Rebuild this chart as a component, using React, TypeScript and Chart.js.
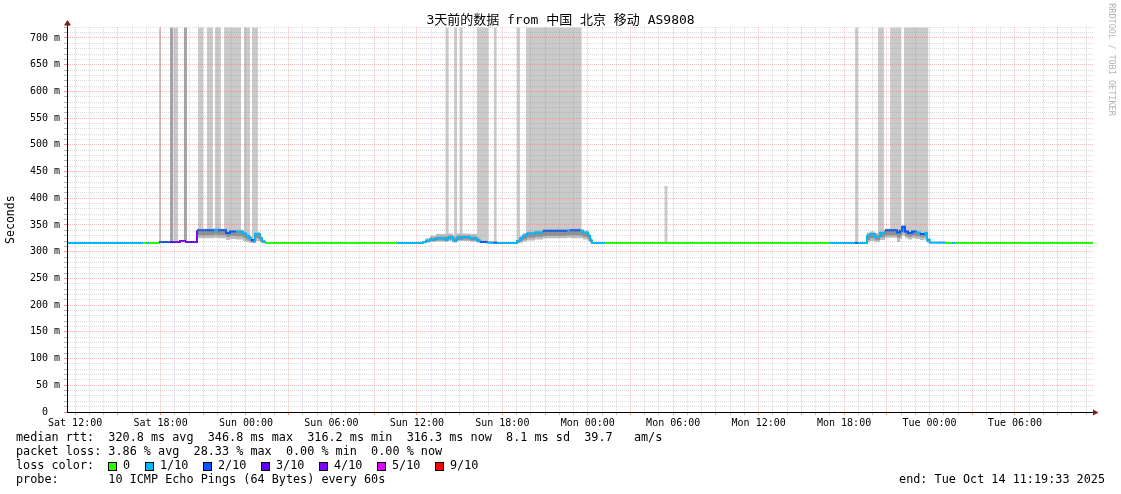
import { useEffect, useRef } from 'react';
import { Chart, registerables } from 'chart.js';

Chart.register(...registerables);

const FONT = '"DejaVu Sans Mono", "Noto Sans CJK SC", monospace';

// ---------- data ----------
const lossPalette: Record<number, string> = {
  0: '#26ff00', 1: '#00b8ff', 2: '#0059ff', 3: '#5e00ff', 4: '#7e00ff', 5: '#dd00ff', 9: '#ff0000',
};

// hours since Sat 00:00
const timeHours = [11.43,16.56,16.77,17.05,17.19,17.89,18.66,19.08,19.37,19.72,20.21,20.56,21.75,22.03,22.60,22.88,23.30,23.79,24.00,24.21,24.35,24.49,24.63,24.98,25.12,25.33,34.60,36.43,36.64,36.92,37.34,37.98,38.19,38.54,38.82,39.24,39.73,40.22,40.43,40.92,41.35,41.63,43.03,43.24,43.45,43.73,44.29,44.86,46.54,46.75,47.46,47.67,48.02,48.16,48.30,49.21,65.01,66.77,66.98,67.61,67.82,68.17,68.52,68.87,69.72,69.93,70.07,70.28,70.49,70.77,71.05,71.33,71.61,71.82,72.03,73.09,73.58,73.79,83.48];

const medianRtt = [316.3,316.3,316.3,316.3,316.3, 318,318,318,320,318,318, 340,341,340,335,338,338,334,330,326,322,319,333,325,319, 316.3,316.3, 318,321,323,325,323,327,321,326,327,325,321,318,317,317, 316.3, 320,325,330,334,336,339,340,340,339,336,330,321, 316.3,316.3, 316.3,316.3,316.3, 330,333,328,335,340,336,339,346.8,338,335,338,336,333,335,322,317, 316.3,316.3,316.3,316.3];

const lossTenths = [1,1,0,1,0, 2,3,4,4,3,4, 2,1,2,2,2,1,1,1,1,2,1,1,1,1, 0,1, 1,1,1,1,1,1,1,1,1,1,1,2,1,2, 1, 1,1,1,1,1,2,1,2,1,1,1,1, 1,0, 1,2,1, 1,1,1,1,2,2,2,2,2,2,2,1,2,1,1,1, 0,1,0,0];

const smokeOuterLo = [316.3,316.3,316.3,316.3,316.3, 318,318,318,320,318,318, 325,326,325,322,324,323,320,318,317,317,316.3,320,318,316.3, 316.3,316.3, 316.3,317,318,319,318,320,317,320,320,319,317,316.3,316.3,316.3, 316.3, 316.3,317,319,321,323,325,326,325,325,323,320,317, 316.3,316.3, 316.3,316.3,316.3, 318,320,318,322,326,318,324,330,325,323,325,324,322,323,317,316.3, 316.3,316.3,316.3,316.3];

const smokeOuterHi = [316.3,316.3,316.3,316.3,316.3, 318,318,318,320,318,318, 343,344,343,339,341,341,337,334,330,326,323,337,330,322, 316.3,316.3, 320,325,330,333,333,334,331,334,334,333,328,322,320,319, 316.3, 324,330,335,338,340,342,343,343,342,339,334,326, 316.3,316.3, 316.3,316.3,316.3, 336,338,335,339,343,340,342,349,341,338,341,339,336,338,326,319, 316.3,316.3,316.3,316.3];

const smokeInnerLo = [316.3,316.3,316.3,316.3,316.3, 318,318,318,320,318,318, 331,332,331,328,330,329,326,323,320,318,317,325,320,317, 316.3,316.3, 317,318,320,321,320,323,319,322,323,321,318,317,316.3,316.3, 316.3, 317,320,323,326,328,330,331,331,330,328,324,318, 316.3,316.3, 316.3,316.3,316.3, 322,325,322,327,331,326,330,336,330,328,330,329,327,328,318,316.3, 316.3,316.3,316.3,316.3];

const smokeInnerHi = [316.3,316.3,316.3,316.3,316.3, 318,318,318,320,318,318, 341,342,341,336,339,339,335,331,327,323,320,334,326,320, 316.3,316.3, 319,322,326,328,328,330,326,330,330,328,324,320,318,318, 316.3, 322,327,332,336,338,340,341,341,340,337,332,323, 316.3,316.3, 316.3,316.3,316.3, 332,335,331,337,341,338,340,348,339,336,339,337,334,336,324,318, 316.3,316.3,316.3,316.3];

// loss shading bars
const barStartH = [17.89,18.66,18.90,19.63,20.63,21.26,21.82,22.46,23.86,24.42,38.02,38.61,39.01,40.20,41.40,43.01,43.66,53.38,66.77,68.38,69.23,70.21];
const barEndH = [18.03,18.90,19.23,19.86,21.00,21.68,22.24,23.65,24.28,24.84,38.24,38.82,39.22,41.04,41.61,43.24,47.58,53.61,66.98,68.80,70.00,71.92];
const barTopV = [720,720,720,720,720,720,720,720,720,720,720,720,720,720,720,720,720,423,720,720,720,720];
const barBaseV = [316.3,318,318,318,335,335,335,335,325,325,325,325,325,320,316.3,320,330,316.3,316.3,330,330,330];
const barDark = [0,1,0,1,0,0,0,0,0,0,0,0,0,0,0,0,0,0,0,0,0,0];

// axes
const xMinH = 11.43;
const xMaxH = 83.48;
const xLabelHours = [12,18,24,30,36,42,48,54,60,66,72,78];
const xLabels = ['Sat 12:00','Sat 18:00','Sun 00:00','Sun 06:00','Sun 12:00','Sun 18:00','Mon 00:00','Mon 06:00','Mon 12:00','Mon 18:00','Tue 00:00','Tue 06:00'];
const yLabelValues = [0,50,100,150,200,250,300,350,400,450,500,550,600,650,700];
const yLabels = ['0  ','50 m','100 m','150 m','200 m','250 m','300 m','350 m','400 m','450 m','500 m','550 m','600 m','650 m','700 m'];

const titleText = '3天前的数据 from 中国 北京 移动 AS9808';
const legendLines = [
  'median rtt:  320.8 ms avg  346.8 ms max  316.2 ms min  316.3 ms now  8.1 ms sd  39.7   am/s',
  'packet loss: 3.86 % avg  28.33 % max  0.00 % min  0.00 % now',
  'loss color:',
  'probe:       10 ICMP Echo Pings (64 Bytes) every 60s',
];
const lossLegendKeys = [0, 1, 2, 3, 4, 5, 9];
const lossLegendLabels = ['0', '1/10', '2/10', '3/10', '4/10', '5/10', '9/10'];
const endText = 'end: Tue Oct 14 11:19:33 2025';
const watermark = 'RRDTOOL / TOBI OETIKER';

// ---------- helpers ----------
const pts = (ys: number[]) => timeHours.map((t, i) => ({ x: t, y: ys[i] }));
const MAJOR_GRID = 'rgba(255,70,70,0.36)';
const MINOR_GRID = 'rgba(140,140,140,0.30)';

const hourTicks: number[] = [];
for (let h = Math.ceil(xMinH); h <= Math.floor(xMaxH); h++) hourTicks.push(h);
const tenTicks: number[] = [];
for (let v = 0; v <= 720; v += 10) tenTicks.push(v);

const decorPlugin = {
  id: 'decor',
  afterDraw(chart: any) {
    const ctx: CanvasRenderingContext2D = chart.ctx;
    const area = chart.chartArea;
    ctx.save();
    // axis extensions and arrows
    ctx.strokeStyle = '#000';
    ctx.lineWidth = 1;
    ctx.beginPath();
    ctx.moveTo(area.left + 0.5, area.top);
    ctx.lineTo(area.left + 0.5, 23);
    ctx.moveTo(area.right, 412.5);
    ctx.lineTo(1095, 412.5);
    ctx.stroke();
    ctx.fillStyle = '#7a1a1a';
    ctx.beginPath();
    ctx.moveTo(64, 25.5);
    ctx.lineTo(71, 25.5);
    ctx.lineTo(67.5, 20);
    ctx.closePath();
    ctx.fill();
    ctx.beginPath();
    ctx.moveTo(1093, 409.5);
    ctx.lineTo(1093, 415.5);
    ctx.lineTo(1098.5, 412.5);
    ctx.closePath();
    ctx.fill();

    // title
    ctx.fillStyle = '#000';
    ctx.textBaseline = 'middle';
    ctx.textAlign = 'center';
    ctx.font = `13px ${FONT}`;
    ctx.fillText(titleText, chart.width / 2, 21);

    // y axis title
    ctx.save();
    ctx.translate(11, (area.top + area.bottom) / 2);
    ctx.rotate(-Math.PI / 2);
    ctx.font = `11.5px ${FONT}`;
    ctx.fillText('Seconds', 0, 0);
    ctx.restore();

    // watermark
    ctx.save();
    ctx.translate(1111, 59.5);
    ctx.rotate(Math.PI / 2);
    ctx.font = `8.5px ${FONT}`;
    ctx.fillStyle = '#b4b4b4';
    ctx.fillText(watermark, 0, 0);
    ctx.restore();

    // legend
    ctx.textAlign = 'left';
    ctx.font = `11.8px ${FONT}`;
    ctx.fillStyle = '#000';
    const rowY = [438, 452, 466, 480];
    legendLines.forEach((line, i) => ctx.fillText(line, 16, rowY[i]));
    const boxX = [108, 145, 203, 261, 319, 377, 435];
    lossLegendKeys.forEach((k, i) => {
      ctx.fillStyle = lossPalette[k];
      ctx.fillRect(boxX[i] + 0.5, 462.5, 8, 8);
      ctx.strokeStyle = '#000';
      ctx.strokeRect(boxX[i] + 0.5, 462.5, 8, 8);
      ctx.fillStyle = '#000';
      ctx.fillText(lossLegendLabels[i], boxX[i] + 15, 466);
    });
    ctx.textAlign = 'right';
    ctx.fillText(endText, 1105, 480);
    ctx.restore();
  },
};

function buildConfig(): any {
  const stepSeries = (data: number[], extra: any) => ({
    data: pts(data),
    stepped: true,
    pointRadius: 0,
    borderWidth: 0,
    borderColor: 'rgba(0,0,0,0)',
    tension: 0,
    ...extra,
  });

  const datasets: any[] = [
    stepSeries(medianRtt, {
      label: 'median',
      borderWidth: 2,
      borderColor: lossPalette[0],
      borderCapStyle: 'butt',
      fill: false,
      order: 0,
      segment: { borderColor: (c: any) => lossPalette[lossTenths[c.p0DataIndex]] },
    }),
    stepSeries(smokeInnerLo, { label: 'innerLo', fill: false, order: 1 }),
    stepSeries(smokeInnerHi, { label: 'innerHi', fill: '-1', backgroundColor: '#909090', order: 1 }),
    stepSeries(smokeOuterLo, { label: 'outerLo', fill: false, order: 2 }),
    stepSeries(smokeOuterHi, { label: 'outerHi', fill: '-1', backgroundColor: '#bdbdbd', order: 2 }),
  ];

  barStartH.forEach((s, i) => {
    datasets.push({
      label: `loss${i}`,
      data: [
        { x: s, y: barTopV[i] },
        { x: barEndH[i], y: barTopV[i] },
      ],
      pointRadius: 0,
      borderWidth: 0,
      borderColor: 'rgba(0,0,0,0)',
      fill: { value: barBaseV[i] },
      backgroundColor: barDark[i] ? '#a4a4a4' : '#cacaca',
      order: 3,
    });
  });

  return {
    type: 'line',
    data: { datasets },
    plugins: [decorPlugin],
    options: {
      animation: false,
      responsive: false,
      events: [],
      layout: { padding: { left: 0, top: 27.3, right: 28, bottom: 0 } },
      plugins: { legend: { display: false }, tooltip: { enabled: false }, title: { display: false } },
      scales: {
        x: {
          type: 'linear',
          min: xMinH,
          max: xMaxH,
          afterBuildTicks: (s: any) => { s.ticks = hourTicks.map((v) => ({ value: v })); },
          afterFit: (s: any) => { s.height = 82; },
          grid: {
            z: 1,
            lineWidth: 1,
            color: (c: any) => (c.tick && c.tick.value % 3 === 0 ? MAJOR_GRID : MINOR_GRID),
            tickColor: (c: any) => (c.tick && c.tick.value % 3 === 0 ? 'rgba(255,64,64,0.6)' : 'rgba(130,130,130,0.5)'),
            tickLength: 3,
          },
          border: { display: true, color: '#000', width: 1, dash: [1, 1], z: 2 },
          ticks: {
            autoSkip: false,
            maxRotation: 0,
            minRotation: 0,
            padding: 2,
            color: '#000',
            font: { family: FONT, size: 10 },
            callback: (v: number) => {
              const i = xLabelHours.indexOf(v);
              return i >= 0 ? xLabels[i] : '';
            },
          },
        },
        y: {
          type: 'linear',
          min: 0,
          max: 720,
          afterBuildTicks: (s: any) => { s.ticks = tenTicks.map((v) => ({ value: v })); },
          afterFit: (s: any) => { s.width = 67; },
          grid: {
            z: 1,
            lineWidth: 1,
            color: (c: any) => (c.tick && c.tick.value % 50 === 0 ? MAJOR_GRID : MINOR_GRID),
            tickColor: (c: any) => (c.tick && c.tick.value % 50 === 0 ? 'rgba(255,64,64,0.6)' : 'rgba(130,130,130,0.6)'),
            tickLength: 3,
          },
          border: { display: true, color: '#000', width: 1, dash: [1, 1], z: 2 },
          ticks: {
            autoSkip: false,
            padding: 4,
            color: '#000',
            font: { family: FONT, size: 10 },
            callback: (v: number) => {
              const i = yLabelValues.indexOf(v);
              return i >= 0 ? yLabels[i] : '';
            },
          },
        },
      },
    },
  };
}

export default function App() {
  const ref = useRef<HTMLCanvasElement>(null);
  useEffect(() => {
    if (!ref.current) return;
    const chart = new Chart(ref.current, buildConfig());
    return () => chart.destroy();
  }, []);
  return (
    <div style={{ position: 'fixed', left: 0, top: 0, width: 1121, height: 494, background: '#fff' }}>
      <canvas ref={ref} width={1121} height={494} style={{ display: 'block', width: 1121, height: 494 }} />
    </div>
  );
}
